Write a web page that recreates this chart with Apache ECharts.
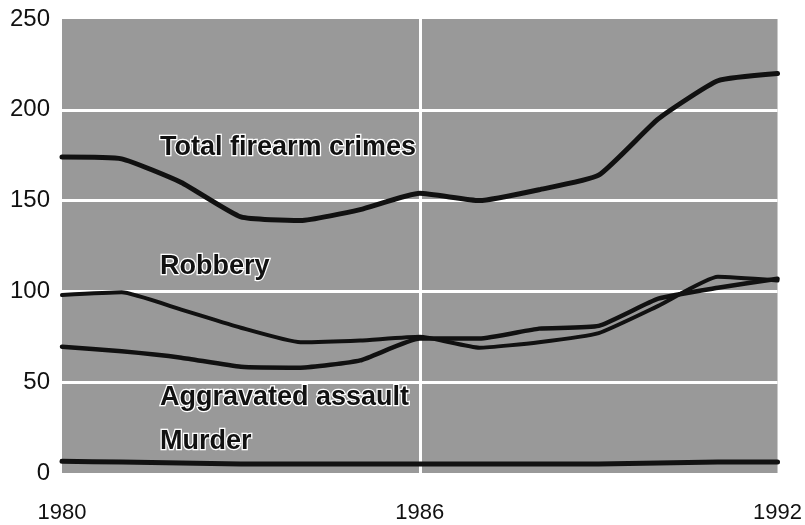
<!DOCTYPE html>
<html>
<head>
<meta charset="utf-8">
<script src="https://cdn.jsdelivr.net/npm/echarts@6/dist/echarts.min.js"></script>
<style>
  html, body { margin: 0; padding: 0; background: #fff; }
  #main { width: 805px; height: 525px; }
</style>
</head>
<body>
<div id="main"></div>
<script>
// years on the x axis
var years = [1980, 1981, 1982, 1983, 1984, 1985, 1986, 1987, 1988, 1989, 1990, 1991, 1992];
// values
var totalCrimes = [174, 173, 160, 141, 139, 145, 154, 150, 156, 164, 195, 216, 220];
var robbery     = [98, 99.5, 90, 80, 72, 73, 75, 69, 72, 77, 92, 108, 106];
var assault     = [69.5, 67, 63.5, 58.5, 58, 62, 74, 74, 79.5, 81, 96, 102, 107];
var murder      = [6.5, 6, 5.5, 5, 5, 5, 5, 5, 5, 5, 5.5, 6, 6];
var yTicks = [0, 50, 100, 150, 200, 250];
var xTicks = [1980, 1986, 1992];

// series labels drawn inside the plot
var seriesLabels = [
  { text: 'Total firearm crimes', x: 160, y: 148 },
  { text: 'Robbery', x: 160, y: 267 },
  { text: 'Aggravated assault', x: 160, y: 398 },
  { text: 'Murder', x: 160, y: 442 }
];

function pairs(vals) {
  return years.map(function (yr, i) { return [yr, vals[i]]; });
}

var lineColor = '#111';
function makeSeries(name, vals, width) {
  return {
    name: name,
    type: 'line',
    data: pairs(vals),
    symbol: 'none',
    smooth: 0.15,
    lineStyle: { color: lineColor, width: width, cap: 'round', join: 'round' },
    silent: true
  };
}

var chart = echarts.init(document.getElementById('main'), null, { renderer: 'canvas' });

var option = {
  animation: false,
  backgroundColor: '#fff',
  grid: {
    left: 62, right: 22, top: 19, bottom: 52,
    show: true,
    backgroundColor: '#999999',
    borderWidth: 0
  },
  xAxis: {
    type: 'value',
    min: xTicks[0],
    max: xTicks[xTicks.length - 1],
    interval: 6,
    axisLine: { show: false },
    axisTick: { show: false },
    axisLabel: {
      color: '#111',
      fontSize: 22,
      fontFamily: '"Liberation Sans", Arial, sans-serif',
      margin: 29,
      formatter: function (v) { return String(v); }
    },
    splitLine: {
      show: true,
      showMinLine: false,
      showMaxLine: false,
      lineStyle: { color: '#fff', width: 3 }
    }
  },
  yAxis: {
    type: 'value',
    min: yTicks[0],
    max: yTicks[yTicks.length - 1],
    interval: 50,
    axisLine: { show: false },
    axisTick: { show: false },
    axisLabel: {
      color: '#111',
      fontSize: 24,
      fontFamily: '"Liberation Sans", Arial, sans-serif',
      margin: 12
    },
    splitLine: {
      show: true,
      showMinLine: false,
      showMaxLine: false,
      lineStyle: { color: '#fff', width: 3 }
    }
  },
  series: [
    makeSeries('Total firearm crimes', totalCrimes, 5),
    makeSeries('Robbery', robbery, 4),
    makeSeries('Aggravated assault', assault, 4.5),
    makeSeries('Murder', murder, 5)
  ],
  graphic: seriesLabels.map(function (l) {
    return {
      type: 'text',
      x: l.x,
      y: l.y,
      z: 100,
      style: {
        text: l.text,
        font: 'bold 27px "Liberation Sans", Arial, sans-serif',
        fill: '#111',
        stroke: '#fff',
        lineWidth: 2.5,
        verticalAlign: 'middle',
        align: 'left'
      }
    };
  })
};

chart.setOption(option);
</script>
</body>
</html>
